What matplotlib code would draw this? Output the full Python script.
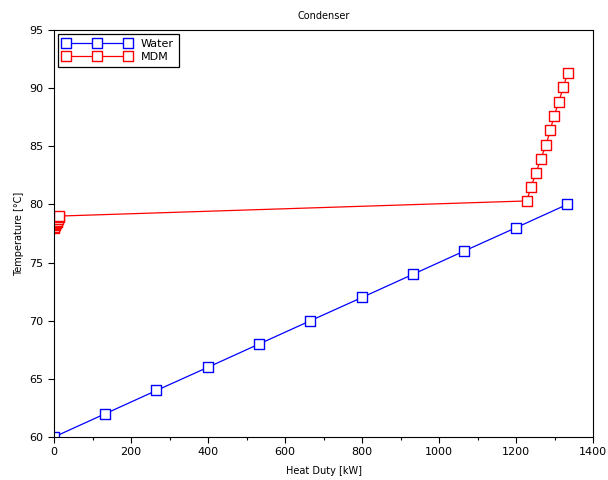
import numpy as np
import matplotlib.pyplot as plt
from matplotlib.markers import MarkerStyle

# water side (kW, degC)
water_q = [0, 133, 266, 400, 533, 666, 800, 933, 1066, 1200, 1333]
water_t = [60, 62, 64, 66, 68, 70, 72, 74, 76, 78, 80]

# MDM side (kW, degC)
mdm_q = [0, 1, 2, 3.5, 5, 6.5, 8, 10, 12, 14,
         1228, 1239, 1252, 1264, 1278, 1289, 1299, 1311, 1323, 1334]
mdm_t = [78.0, 78.1, 78.2, 78.3, 78.4, 78.5, 78.6, 78.75, 78.9, 79.0,
         80.3, 81.5, 82.7, 83.9, 85.1, 86.4, 87.6, 88.8, 90.1, 91.3]

plt.rcParams['font.family'] = ['DejaVu Sans']

sq = MarkerStyle('s', joinstyle='round')

fig = plt.figure(figsize=(6.08, 4.8), dpi=100)
ax = fig.add_axes([54/608, 43/480, 539/608, 407/480])

ax.plot(water_q, water_t, color='blue', lw=0.9, marker=sq, ms=6.5,
        mfc='white', mec='blue', mew=1.0, label='Water')
ax.plot(mdm_q, mdm_t, color='red', lw=0.9, marker=sq, ms=6.5,
        mfc='white', mec='red', mew=1.0, label='MDM')

ax.set_xlim(0, 1400)
ax.set_ylim(60, 95)
ax.set_xticks(np.arange(0, 1401, 200))
ax.set_xticks(np.arange(0, 1401, 100), minor=True)
ax.set_yticks(np.arange(60, 96, 5))
ax.tick_params(direction='out', labelsize=8, top=False, right=False,
               length=4, width=0.8)
ax.tick_params(which='minor', direction='out', length=2, width=0.8)
for s in ax.spines.values():
    s.set_linewidth(0.8)

ax.set_title('Condenser', fontsize=7, pad=8)
ax.set_xlabel('Heat Duty [kW]', fontsize=7, labelpad=6)
ax.set_ylabel('Temperature [°C]', fontsize=7, labelpad=4)

leg = ax.legend(loc='upper left', numpoints=3, handlelength=6.2,
                fontsize=8, fancybox=False, framealpha=1,
                edgecolor='black', borderaxespad=0.35, handletextpad=0.8,
                borderpad=0.45, labelspacing=0.25)
leg.get_frame().set_linewidth(0.9)

fig.savefig('out.png', dpi=100)
